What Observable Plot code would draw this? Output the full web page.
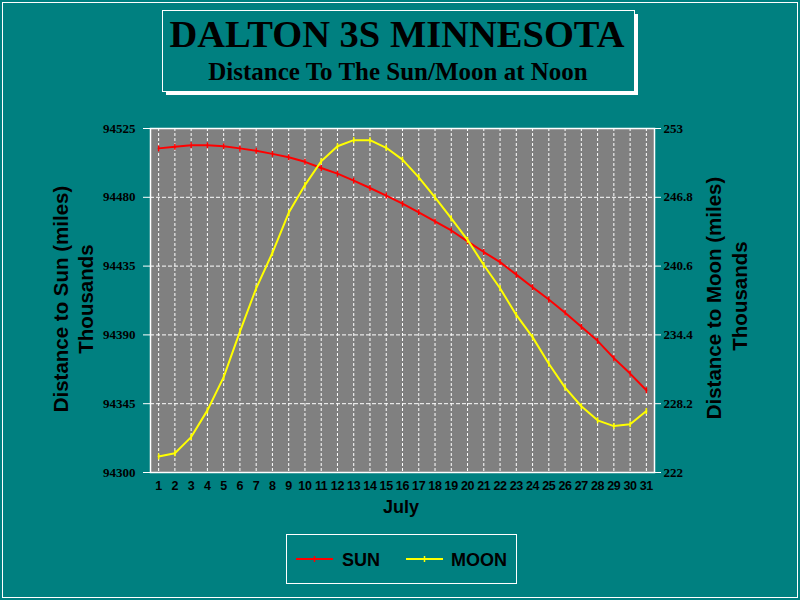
<!DOCTYPE html>
<html>
<head>
<meta charset="utf-8">
<script src="https://cdn.jsdelivr.net/npm/d3@7"></script>
<script src="https://cdn.jsdelivr.net/npm/@observablehq/plot@0.6"></script>
<style>
  html, body { margin: 0; padding: 0; background: #008080; }
  #chart svg { display: block; }
</style>
</head>
<body>
<div id="chart"></div>
<script>
// ---- data ----
const days = [1,2,3,4,5,6,7,8,9,10,11,12,13,14,15,16,17,18,19,20,21,22,23,24,25,26,27,28,29,30,31];
const sunValues = [94512,94513,94514,94514,94513.4,94512,94510.4,94508.4,94506.2,94503.2,94499.2,94495.5,94490.9,94486.1,94481.1,94475.8,94470.2,94464.2,94458.3,94451.2,94444.2,94437.6,94429.4,94421.2,94413.2,94404.5,94395.3,94386.1,94374.8,94364.7,94353.8];
const moonValues = [223.45,223.74,225.19,227.6,230.6,234.7,238.6,241.8,245.4,247.9,250.05,251.4,251.95,251.95,251.26,250.2,248.6,246.8,244.9,242.97,240.7,238.6,236.2,234.2,231.8,229.65,227.97,226.7,226.18,226.34,227.54];
const sunTicks = [94300,94345,94390,94435,94480,94525];
const moonTicks = [222,228.2,234.4,240.6,246.8,253];
const seriesNames = ["SUN","MOON"];
const seriesColors = ["#ff0000","#ffff00"];
const titleText = "DALTON 3S MINNESOTA";
const subtitleText = "Distance To The Sun/Moon at Noon";
const xLabel = "July";
const yLeftLabel = ["Distance to Sun (miles)","Thousands"];
const yRightLabel = ["Distance to Moon (miles)","Thousands"];

// ---- scales mapping ----
const sunMin = sunTicks[0], sunMax = sunTicks[sunTicks.length-1];
const moonMin = moonTicks[0], moonMax = moonTicks[moonTicks.length-1];
const toSun = m => sunMin + (m - moonMin) * (sunMax - sunMin) / (moonMax - moonMin);

const sunData = days.map((d,i) => ({day: d, value: sunValues[i]}));
const moonData = days.map((d,i) => ({day: d, value: toSun(moonValues[i])}));

const vtick = {draw(ctx, size) { const r = Math.sqrt(size / Math.PI); ctx.moveTo(0, -r); ctx.lineTo(0, r); }};

const SERIF = "'Liberation Serif', 'Times New Roman', serif";
const SANS = "'Liberation Sans', Arial, sans-serif";

const plot = Plot.plot({
  width: 800,
  height: 600,
  marginLeft: 150,
  marginRight: 146,
  marginTop: 128,
  marginBottom: 128,
  style: {background: "#008080", overflow: "visible"},
  x: {domain: [0.5, 31.5]},
  y: {domain: [sunMin, sunMax]},
  marks: [
    Plot.frame({fill: "#808080", stroke: "none"}),
    Plot.gridX(days, {stroke: "white", strokeOpacity: 1, strokeDasharray: "3,2"}),
    Plot.gridY(sunTicks.slice(1, -1), {stroke: "white", strokeOpacity: 1, strokeDasharray: "4,2"}),
    Plot.line(sunData, {x: "day", y: "value", stroke: seriesColors[0], strokeWidth: 2}),
    Plot.dot(sunData, {x: "day", y: "value", symbol: vtick, r: 3, stroke: seriesColors[0], strokeWidth: 1.5}),
    Plot.line(moonData, {x: "day", y: "value", stroke: seriesColors[1], strokeWidth: 2}),
    Plot.dot(moonData, {x: "day", y: "value", symbol: vtick, r: 3, stroke: seriesColors[1], strokeWidth: 1.5}),
    Plot.frame({stroke: "white", strokeWidth: 1.5}),
    Plot.axisY(sunTicks, {anchor: "left", tickSize: 7, tickPadding: 8, stroke: "white", fill: "black",
      fontFamily: SERIF, fontWeight: "bold", fontSize: 13, label: null, tickFormat: d => String(d)}),
    Plot.axisY(sunTicks, {anchor: "right", tickSize: 6, tickPadding: 3, stroke: "white", fill: "black",
      fontFamily: SERIF, fontWeight: "bold", fontSize: 13, label: null,
      tickFormat: d => String(moonTicks[sunTicks.indexOf(d)])}),
    Plot.axisX(days, {anchor: "bottom", tickSize: 0, tickPadding: 9, fill: "black",
      fontFamily: SANS, fontWeight: "bold", fontSize: 12, label: null, tickFormat: d => String(d)})
  ]
});

document.getElementById("chart").appendChild(plot);

const svg = d3.select(plot);
// enforce tick label fonts (classify by content)
const yStrings = new Set([...sunTicks.map(String), ...moonTicks.map(String)]);
const xStrings = new Set(days.map(String));
svg.selectAll("text").each(function() {
  const t = this.textContent.trim();
  if (yStrings.has(t)) {
    d3.select(this).style("font-size", "13px").style("font-family", SERIF).style("font-weight", "bold");
  } else if (xStrings.has(t)) {
    d3.select(this).style("font-size", "12.5px").style("font-family", SANS).style("font-weight", "bold")
      .style("letter-spacing", "-0.3px");
  }
});

// outer border
svg.append("rect").attr("x", 2.5).attr("y", 2.5).attr("width", 795).attr("height", 595)
  .attr("fill", "none").attr("stroke", "white").attr("stroke-width", 1);

// title box with shadow
svg.append("rect").attr("x", 166).attr("y", 14).attr("width", 472).attr("height", 81).attr("fill", "white");
svg.append("rect").attr("x", 162.5).attr("y", 10.5).attr("width", 472).attr("height", 81)
  .attr("fill", "#008080").attr("stroke", "white").attr("stroke-width", 1);
svg.append("text").attr("x", 397).attr("y", 47).attr("text-anchor", "middle")
  .attr("font-family", SERIF).attr("font-weight", "bold").attr("font-size", 38.5).attr("fill", "black")
  .text(titleText);
svg.append("text").attr("x", 398).attr("y", 80).attr("text-anchor", "middle")
  .attr("font-family", SERIF).attr("font-weight", "bold").attr("font-size", 25).attr("fill", "black")
  .text(subtitleText);

// axis labels
function vlabel(x, y, txt) {
  svg.append("text").attr("transform", `translate(${x},${y}) rotate(-90)`).attr("text-anchor", "middle")
    .attr("font-family", SANS).attr("font-weight", "bold").attr("font-size", 20.5).attr("fill", "black")
    .text(txt);
}
vlabel(68, 299, yLeftLabel[0]);
vlabel(93, 299, yLeftLabel[1]);
vlabel(721, 298, yRightLabel[0]);
vlabel(747, 296, yRightLabel[1]);
svg.append("text").attr("x", 401).attr("y", 513).attr("text-anchor", "middle")
  .attr("font-family", SANS).attr("font-weight", "bold").attr("font-size", 18).attr("fill", "black")
  .text(xLabel);

// legend
svg.append("rect").attr("x", 286.5).attr("y", 534.5).attr("width", 230).attr("height", 49)
  .attr("fill", "none").attr("stroke", "white").attr("stroke-width", 1);
const legendItems = [{x0: 296, x1: 333, tx: 342}, {x0: 406, x1: 443, tx: 451}];
legendItems.forEach((it, i) => {
  svg.append("line").attr("x1", it.x0).attr("x2", it.x1).attr("y1", 559).attr("y2", 559)
    .attr("stroke", seriesColors[i]).attr("stroke-width", 2);
  const mx = (it.x0 + it.x1) / 2;
  svg.append("line").attr("x1", mx).attr("x2", mx).attr("y1", 556).attr("y2", 562)
    .attr("stroke", seriesColors[i]).attr("stroke-width", 1.5);
  svg.append("text").attr("x", it.tx).attr("y", 565.5).attr("text-anchor", "start")
    .attr("font-family", SANS).attr("font-weight", "bold").attr("font-size", 18).attr("fill", "black")
    .text(seriesNames[i]);
});
</script>
</body>
</html>
